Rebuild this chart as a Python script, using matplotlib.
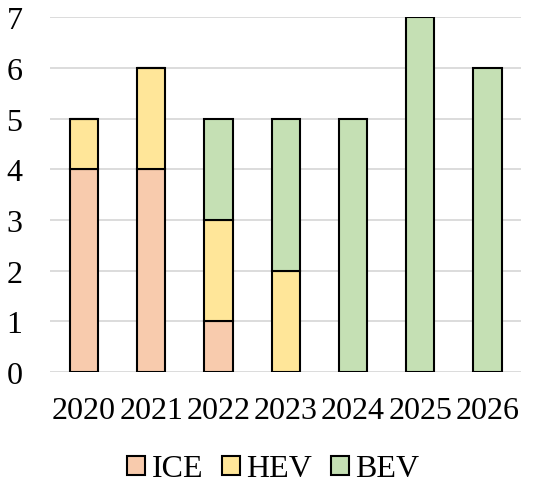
import matplotlib.pyplot as plt
import numpy as np

plt.rcParams['font.family'] = ['Liberation Serif', 'DejaVu Serif']

years = ['2020', '2021', '2022', '2023', '2024', '2025', '2026']
ice = [4, 4, 1, 0, 0, 0, 0]
hev = [1, 2, 2, 2, 0, 0, 0]
bev = [0, 0, 2, 3, 5, 7, 6]

colors = {'ICE': '#F8CBAD', 'HEV': '#FFE699', 'BEV': '#C5E0B4'}

fig = plt.figure(figsize=(5.34, 4.89), dpi=100)
ax = fig.add_axes([0.094, 0.237, 0.882, 0.726])

x = np.arange(len(years))
w = 0.42
bottom = np.zeros(len(years))
for name, vals in [('ICE', ice), ('HEV', hev), ('BEV', bev)]:
    vals = np.array(vals)
    ax.bar(x, vals, w, bottom=bottom, color=colors[name], edgecolor='black',
           linewidth=1.5, label=name, zorder=3)
    bottom += vals

ax.set_xlim(-0.5, len(years) - 0.5)
ax.set_ylim(0, 7)
ax.set_yticks(range(8))
ax.set_xticks(x)
ax.set_xticklabels(years)
ax.tick_params(axis='both', length=0, labelsize=23)
ax.tick_params(axis='x', pad=17)
ax.tick_params(axis='y', pad=20)
ax.yaxis.grid(True, color='#D9D9D9', linewidth=1.3, zorder=0)
for s in ax.spines.values():
    s.set_visible(False)

fig.legend(loc='center', bbox_to_anchor=(0.512, 0.039), ncol=3, frameon=False,
           fontsize=23, handlelength=0.55, handleheight=0.55, handletextpad=0.2,
           columnspacing=0.6)

plt.savefig('out.png', dpi=100)
